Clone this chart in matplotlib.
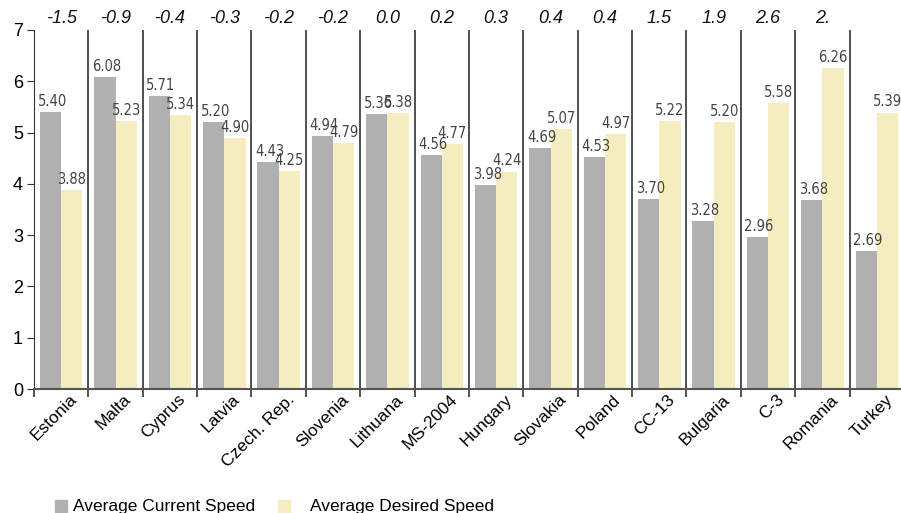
import matplotlib
matplotlib.use("Agg")
import matplotlib.pyplot as plt
import matplotlib.transforms as mtransforms
import numpy as np
from matplotlib.patches import Rectangle

countries = ["Estonia", "Malta", "Cyprus", "Latvia", "Czech. Rep.", "Slovenia",
             "Lithuana", "MS-2004", "Hungary", "Slovakia", "Poland", "CC-13",
             "Bulgaria", "C-3", "Romania", "Turkey"]
current_speed = [5.40, 6.08, 5.71, 5.20, 4.43, 4.94, 5.36, 4.56, 3.98, 4.69,
                 4.53, 3.70, 3.28, 2.96, 3.68, 2.69]
desired_speed = [3.88, 5.23, 5.34, 4.90, 4.25, 4.79, 5.38, 4.77, 4.24, 5.07,
                 4.97, 5.22, 5.20, 5.58, 6.26, 5.39]
gap_labels = ["-1.5", "-0.9", "-0.4", "-0.3", "-0.2", "-0.2", "0.0", "0.2",
              "0.3", "0.4", "0.4", "1.5", "1.9", "2.6", "2.", ""]
series_names = ["Average Current Speed", "Average Desired Speed"]

plt.rcParams["font.family"] = ["Liberation Sans", "DejaVu Sans"]

grey = "#b0b0b0"
cream = "#f3edbf"

W, H = 901, 513
fig = plt.figure(figsize=(W / 100, H / 100), dpi=100)
ax = fig.add_axes([34 / W, 124 / H, (W - 34) / W, 359 / H])

x = np.arange(len(countries))
bw = 0.39
ax.bar(x - bw / 2, current_speed, bw, color=grey, zorder=2)
ax.bar(x + bw / 2, desired_speed, bw, color=cream, zorder=2)

for xi, c, d in zip(x, current_speed, desired_speed):
    ax.text(xi - bw / 2 + 0.03, c + 0.06, f"{c:.2f}", ha="center", va="bottom",
            fontsize=10.5, color="#444444", family="DejaVu Sans",
            fontstretch="condensed")
    ax.text(xi + bw / 2, d + 0.06, f"{d:.2f}", ha="center", va="bottom",
            fontsize=10.5, color="#444444", family="DejaVu Sans",
            fontstretch="condensed")

for xi, g in zip(x, gap_labels):
    ax.text(xi, 7.22, g, ha="center", va="center", fontsize=13,
            style="italic", color="#111111")

# group separators
bounds = np.arange(len(countries) - 1) + 0.5
ax.vlines(bounds, 0, 7, color="#222222", lw=1.1, zorder=3)

ax.set_xlim(-0.5, 15.5 - 3 / 54.4)
ax.set_ylim(0, 7)
ax.set_yticks(range(8))
ax.tick_params(axis="y", length=5, labelsize=13, colors="#333333",
               labelcolor="black", pad=3)

ax.set_xticks(x)
ax.set_xticklabels(countries, rotation=45, ha="right", rotation_mode="anchor",
                   fontsize=12.5)
ax.tick_params(axis="x", which="major", length=0, pad=2)
shift = mtransforms.ScaledTranslation(8 / 100, 0, fig.dpi_scale_trans)
for lbl in ax.get_xticklabels():
    lbl.set_transform(lbl.get_transform() + shift)
ax.set_xticks(np.append(bounds, -0.5), minor=True)
ax.tick_params(axis="x", which="minor", length=6, color="#222222", width=1.1)

for s in ["top", "right"]:
    ax.spines[s].set_visible(False)
ax.spines["left"].set_color("#333333")
ax.spines["bottom"].set_color("#555555")
ax.spines["bottom"].set_linewidth(1.5)
ax.spines["bottom"].set_zorder(4)

# legend along the bottom edge
for (sx, tx), col, name in zip([(55, 73), (278, 310)], [grey, cream],
                               series_names):
    fig.add_artist(Rectangle((sx / W, 0), 12 / W, 13 / H, color=col,
                             transform=fig.transFigure))
    fig.text(tx / W, 6 / H, name, ha="left", va="center", fontsize=12.5)

fig.savefig("out.png", dpi=100)
